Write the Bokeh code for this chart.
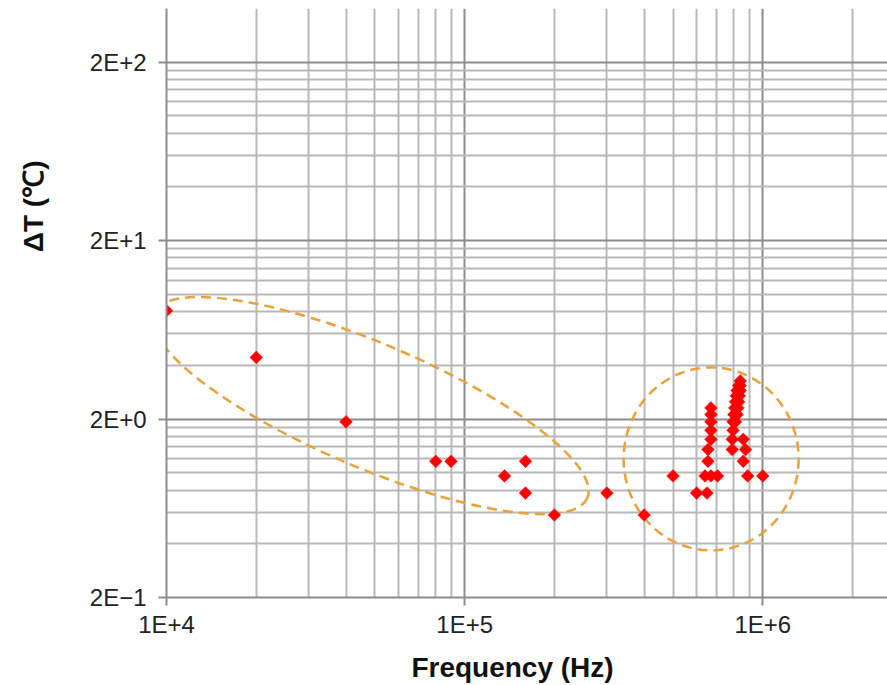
import numpy as np
from bokeh.plotting import figure
from bokeh.layouts import row, column
from bokeh.models import Range1d, FixedTicker
from bokeh.core.properties import value
from bokeh.embed import file_html
from bokeh.resources import INLINE

# ---------------- data ----------------
freq_hz = [
    1e4, 2e4, 4e4, 8e4, 9e4, 1.36e5, 1.6e5, 1.6e5, 2e5, 3e5, 4e5, 5e5,
    6.7e5, 6.7e5, 6.7e5, 6.7e5, 6.7e5, 6.55e5, 6.55e5, 6.4e5, 6.7e5, 7.05e5, 6.0e5, 6.5e5,
    8.4e5, 8.4e5, 8.3e5, 8.4e5, 8.2e5, 8.35e5, 8.15e5, 8.3e5, 8.1e5, 8.25e5, 8.05e5,
    8.2e5, 8.0e5, 8.1e5, 7.95e5, 7.95e5, 7.9e5, 7.9e5, 8.6e5, 8.75e5, 8.6e5, 8.9e5, 1.0e6,
]
delta_t = [
    8.1, 4.43, 1.93, 1.16, 1.16, 0.96, 1.16, 0.77, 0.58, 0.77, 0.58, 0.96,
    2.31, 2.12, 1.93, 1.73, 1.54, 1.35, 1.16, 0.96, 0.96, 0.96, 0.77, 0.77,
    3.27, 3.08, 3.08, 2.89, 2.89, 2.70, 2.70, 2.50, 2.50, 2.31, 2.31,
    2.12, 2.12, 1.93, 1.93, 1.73, 1.54, 1.35, 1.54, 1.35, 1.16, 0.96, 0.96,
]

x_major = [1e4, 1e5, 1e6]
x_labels = ["1E+4", "1E+5", "1E+6"]
x_minor = [k * 10.0 ** n for n in (4, 5) for k in range(2, 10)] + [2e6]

y_major = [0.2, 2.0, 20.0, 200.0]
y_labels = ["2E\u22121", "2E+0", "2E+1", "2E+2"]
y_minor = [round(0.2 * k * 10.0 ** n, 6) for n in (0, 1, 2) for k in range(2, 10)] + [400.0]

# highlighted groups (dashed outlines)
group_freq = [4.84e4, 6.71e5]
group_dt = [2.38, 1.196]

x_title = "Frequency (Hz)"
y_title = "\u0394T (\u2103)"

TITLE_FONT = value("Liberation Sans")

# ---------------- main plot ----------------
p = figure(
    width=827, height=640,
    x_axis_type="log", y_axis_type="log",
    x_range=Range1d(1e4, 2.62e6), y_range=Range1d(0.2, 400),
    output_backend="svg", toolbar_location=None,
    min_border_left=106, min_border_right=0, min_border_top=8, min_border_bottom=42,
)
p.outline_line_color = None

p.xaxis.ticker = FixedTicker(ticks=x_major, minor_ticks=x_minor)
p.yaxis.ticker = FixedTicker(ticks=y_major, minor_ticks=y_minor)
p.xaxis.major_label_overrides = {v: s for v, s in zip(x_major, x_labels)}
p.yaxis.major_label_overrides = {v: s for v, s in zip(y_major, y_labels)}

for ax in (p.xaxis, p.yaxis):
    ax.axis_line_color = "#8c8c8c"
    ax.axis_line_width = 2
    ax.major_tick_line_color = "#8c8c8c"
    ax.major_tick_line_width = 2
    ax.major_tick_out = 8
    ax.major_tick_in = 0
    ax.minor_tick_line_color = None
    ax.major_label_text_font = "Liberation Sans"
    ax.major_label_text_font_size = "24px"
    ax.major_label_text_color = "#222222"
p.yaxis.major_label_standoff = 12
p.xaxis.major_label_standoff = 5

for g in (p.xgrid, p.ygrid):
    g.grid_line_color = "#8c8c8c"
    g.grid_line_width = 2
    g.minor_grid_line_color = "#b8b8b8"
    g.minor_grid_line_width = 2

# dashed group outlines (sizes in screen pixels)
p.ellipse(x=group_freq, y=group_dt, width=[471, 175], height=[124, 183],
          angle=[-0.403, 0.0], width_units="screen", height_units="screen",
          fill_color=None, line_color="#E9A23B", line_width=2.5, line_dash="10 6")

p.scatter(x=freq_hz, y=delta_t, marker="square", angle=np.pi / 4, size=9,
          fill_color="#ff0000", line_color="#ff0000", line_width=0.5)


def strip(w, h):
    f = figure(width=w, height=h, x_range=Range1d(0, w), y_range=Range1d(0, h),
               output_backend="svg", toolbar_location=None,
               x_axis_location=None, y_axis_location=None, min_border=0)
    f.grid.visible = False
    f.outline_line_color = None
    return f


# y-axis title strip (left)
left = strip(60, 640)
left.text(x=[33], y=[425], text=[y_title], angle=np.pi / 2,
          text_align="center", text_baseline="alphabetic",
          text_font=TITLE_FONT, text_font_style="bold",
          text_font_size="28px", text_color="#111111")

# x-axis title strip (bottom)
bottom = strip(887, 45)
bottom.text(x=[512], y=[18], text=[x_title],
            text_align="center", text_baseline="alphabetic",
            text_font=TITLE_FONT, text_font_style="bold",
            text_font_size="28px", text_color="#111111")

layout = column(row(left, p, spacing=0), bottom, spacing=0)

open("out.html", "w").write(file_html(layout, INLINE))
